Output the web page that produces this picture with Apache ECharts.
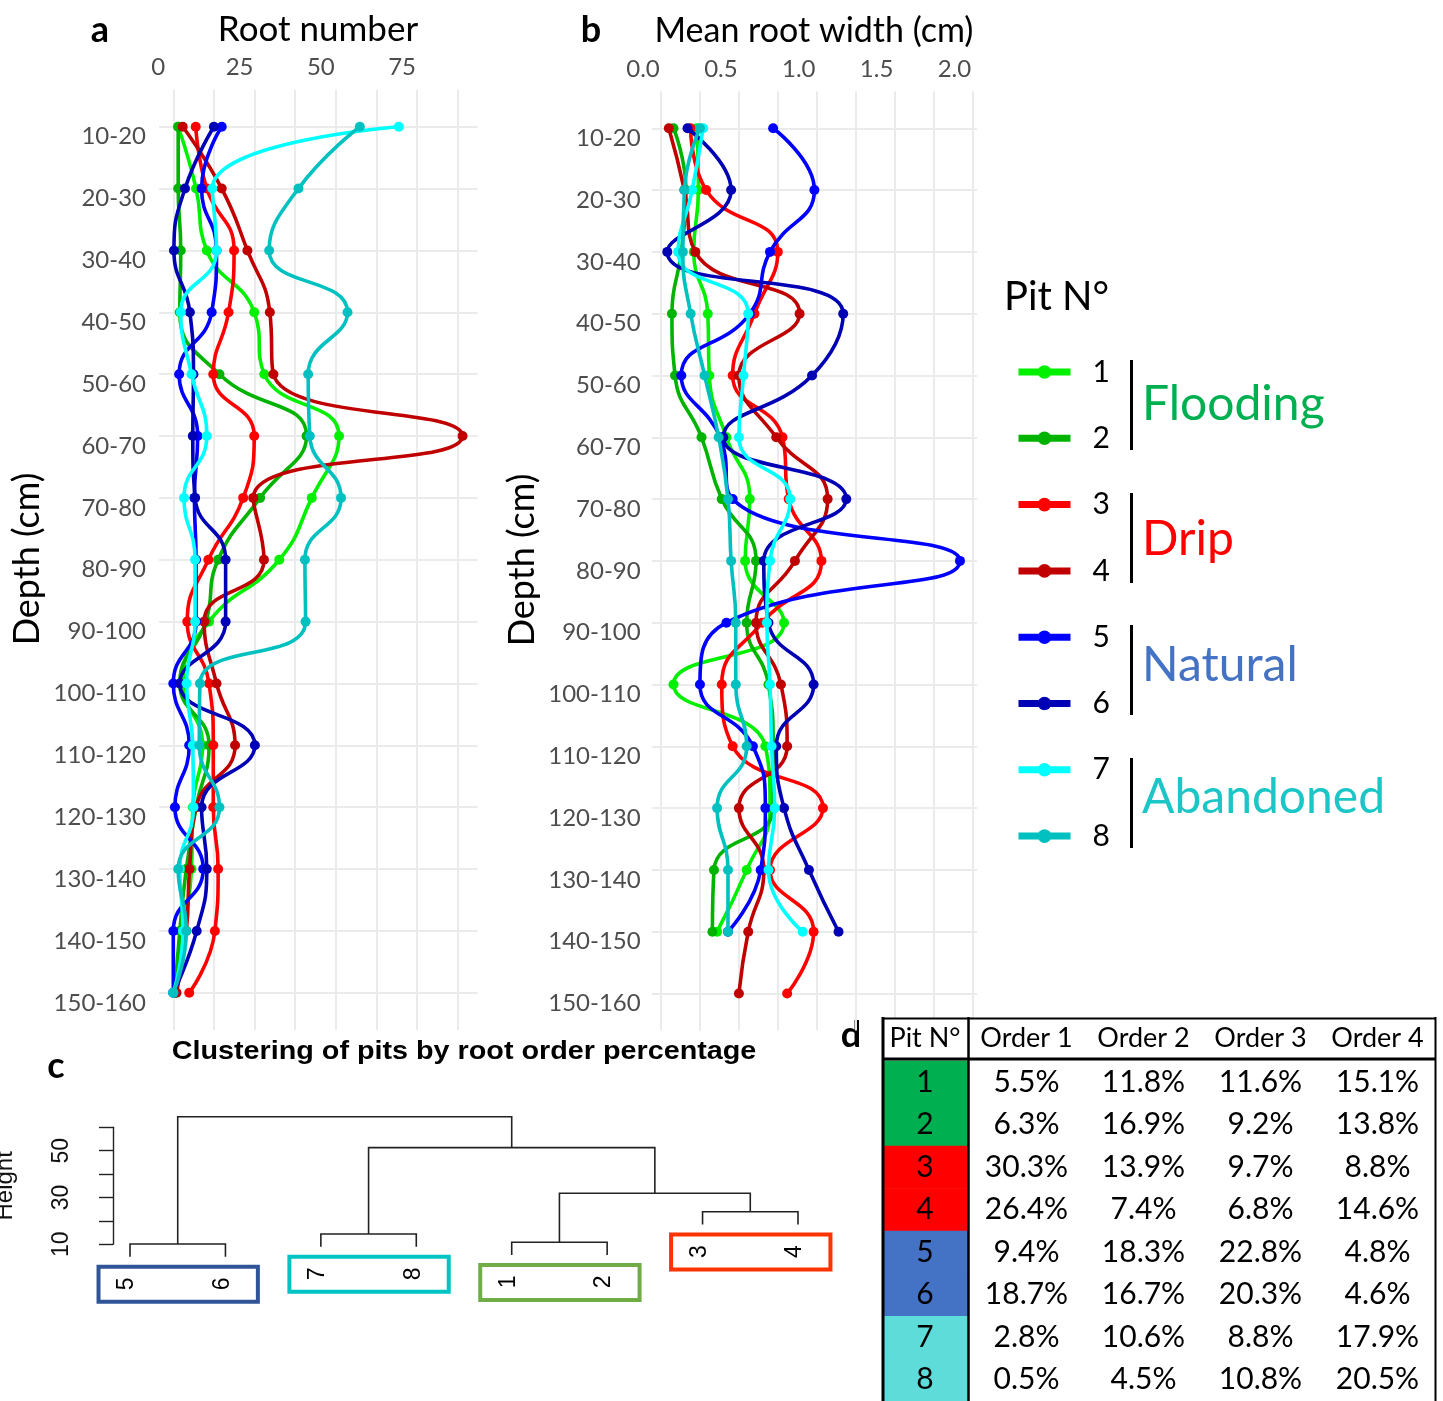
<!DOCTYPE html>
<html>
<head>
<meta charset="utf-8">
<script src="https://cdn.jsdelivr.net/npm/echarts@6/dist/echarts.min.js"></script>
<style>html,body{margin:0;padding:0;background:#fff}#c{width:1443px;height:1401px}</style>
</head>
<body>
<div id="c"></div>
<script>
// ---------------- DATA ----------------
const depthClasses = ['10-20','20-30','30-40','40-50','50-60','60-70','70-80','80-90','90-100','100-110','110-120','120-130','130-140','140-150','150-160'];
const pitIds = ['1','2','3','4','5','6','7','8'];
const pitTreatment = ['Flooding','Flooding','Drip','Drip','Natural','Natural','Abandoned','Abandoned'];
const treatments = ['Flooding','Drip','Natural','Abandoned'];

// panel a: root number per depth class
const rootNumberPit1 = [1.5, 7, 10.3, 24.9, 28, 51, 42.6, 32.6, 11, 3, 9, 6, 5.6, 3, 0.5];
const rootNumberPit2 = [1.5, 1.5, 2.3, 2, 14.2, 41, 26.7, 13.8, 10, 2, 11, 7, 4, 2, 0.5];
const rootNumberPit3 = [6.9, 10.3, 18.7, 17, 12.3, 24.9, 21.5, 10.8, 4.3, 11, 12.3, 12.3, 13.8, 12.8, 4.9];
const rootNumberPit4 = [2.9, 14.9, 22.8, 29.7, 30.8, 89, 24.6, 27.9, 9.5, 13.3, 19, 7, 5, 4, 1];
const rootNumberPit5 = [14.9, 8.7, 13.3, 11.8, 1.8, 7.5, 6.5, 7, 7, 0, 4.9, 0.5, 9.2, 0, 0];
const rootNumberPit6 = [12.5, 3.6, 0.2, 5.1, 6.2, 6, 6.7, 16.1, 16.1, 2, 25.1, 8.7, 10.3, 7.2, 0];
const rootNumberPit7 = [69.4, 12, 13.3, 2.3, 5.6, 10.3, 3.3, 6.7, 6.7, 4.1, 6, 6.2, 2, 3, 0];
const rootNumberPit8 = [57.4, 38.5, 29.5, 53.6, 41.5, 42, 51.6, 40.5, 40.7, 8.2, 8, 14.2, 1.5, 4, 0];

// panel b: mean root width (cm) per depth class
const rootWidthPit1 = [0.23, 0.24, 0.21, 0.30, 0.31, 0.42, 0.57, 0.54, 0.79, 0.08, 0.67, 0.70, 0.55, 0.36];
const rootWidthPit2 = [0.08, 0.16, 0.13, 0.07, 0.09, 0.26, 0.39, 0.61, 0.55, 0.69, 0.72, 0.72, 0.34, 0.33];
const rootWidthPit3 = [0.19, 0.29, 0.75, 0.60, 0.46, 0.78, 0.82, 1.03, 0.65, 0.39, 0.46, 1.04, 0.70, 0.98, 0.81];
const rootWidthPit4 = [0.05, 0.15, 0.22, 0.89, 0.50, 0.74, 1.07, 0.86, 0.61, 0.77, 0.81, 0.50, 0.66, 0.56, 0.50];
const rootWidthPit5 = [0.72, 0.985, 0.70, 0.57, 0.13, 0.38, 0.46, 1.92, 0.42, 0.25, 0.59, 0.67, 0.64, 0.43];
const rootWidthPit6 = [0.17, 0.45, 0.04, 1.17, 0.97, 0.40, 1.19, 0.66, 0.69, 0.98, 0.74, 0.79, 0.95, 1.14];
const rootWidthPit7 = [0.27, 0.20, 0.11, 0.56, 0.53, 0.50, 0.83, 0.70, 0.68, 0.70, 0.71, 0.73, 0.69, 0.91];
const rootWidthPit8 = [0.25, 0.15, 0.14, 0.19, 0.28, 0.37, 0.43, 0.45, 0.48, 0.48, 0.55, 0.36, 0.43, 0.43];

const rootNumberTicks = [0, 12.5, 25, 37.5, 50, 62.5, 75, 87.5];
const rootNumberLabels = [0, 25, 50, 75];
const rootWidthTicks = [0, 0.25, 0.5, 0.75, 1, 1.25, 1.5, 1.75, 2];
const rootWidthLabels = [0, 0.5, 1, 1.5, 2];

// panel c: hierarchical clustering (R hclust style merge table)
const leafOrder = ['5','6','7','8','1','2','3','4'];
const mergeLeft = [-5, -1, -7, -3, 2, 3, 1];
const mergeRight = [-6, -2, -8, -4, 4, 5, 6];
const mergeHeight = [10.1, 10.9, 14.4, 23.9, 31.8, 51.3, 64.5];
const clusterLeaves = [['5','6'], ['7','8'], ['1','2'], ['3','4']];
const clusterTreatment = ['Natural', 'Abandoned', 'Flooding', 'Drip'];
const heightLabels = [10, 30, 50];

// panel d: root order percentages
const orderNames = ['Order 1', 'Order 2', 'Order 3', 'Order 4'];
const order1 = [5.5, 6.3, 30.3, 26.4, 9.4, 18.7, 2.8, 0.5];
const order2 = [11.8, 16.9, 13.9, 7.4, 18.3, 16.7, 10.6, 4.5];
const order3 = [11.6, 9.2, 9.7, 6.8, 22.8, 20.3, 8.8, 10.8];
const order4 = [15.1, 13.8, 8.8, 14.6, 4.8, 4.6, 17.9, 20.5];

// ---------------- STYLE ----------------
const pitColors = ['#00f000', '#00b300', '#ff0000', '#c00000', '#0000ff', '#0000b4', '#00ffff', '#00c0c0'];
const treatmentText = {Flooding:'#00b050', Drip:'#ff0000', Natural:'#4472c4', Abandoned:'#1cc6c6'};
const tableFill = {Flooding:'#00b050', Drip:'#ff0000', Natural:'#4472c4', Abandoned:'#5ddcda'};
const boxColor = {Natural:'#2f5597', Abandoned:'#00c4c4', Flooding:'#70ad47', Drip:'#ff3300'};
const F = 'Lato, "Open Sans", sans-serif';
const FR = '"Liberation Sans", Arial, sans-serif';
const gridLine = {show:true, lineStyle:{color:'#ebebeb', width:2}};

const rootNumber = [rootNumberPit1, rootNumberPit2, rootNumberPit3, rootNumberPit4, rootNumberPit5, rootNumberPit6, rootNumberPit7, rootNumberPit8];
const rootWidth = [rootWidthPit1, rootWidthPit2, rootWidthPit3, rootWidthPit4, rootWidthPit5, rootWidthPit6, rootWidthPit7, rootWidthPit8];
const orders = [order1, order2, order3, order4];

// ---------------- DENDROGRAM GEOMETRY (from merge table) ----------------
const hMax = Math.max(...mergeHeight), hMin = Math.min(...mergeHeight);
const hang = 0.1 * (hMax - hMin);
const nodeX = [];
function posOf(ref) { return ref < 0 ? leafOrder.indexOf(String(-ref)) + 1 : nodeX[ref - 1]; }
for (let i = 0; i < mergeHeight.length; i++) nodeX[i] = (posOf(mergeLeft[i]) + posOf(mergeRight[i])) / 2;
function lowOf(ref, h) { return ref < 0 ? h - hang : mergeHeight[ref - 1]; }
const dendroSegments = mergeHeight.map((h, i) => {
  const xl = posOf(mergeLeft[i]), xr = posOf(mergeRight[i]);
  return {coords: [[xl, lowOf(mergeLeft[i], h)], [xl, h], [xr, h], [xr, lowOf(mergeRight[i], h)]]};
});
const leafEnd = {};
mergeHeight.forEach((h, i) => {
  [mergeLeft[i], mergeRight[i]].forEach(r => { if (r < 0) leafEnd[String(-r)] = h - hang; });
});
const clusterData = clusterLeaves.map(pair => [leafOrder.indexOf(pair[0]) + 1, leafOrder.indexOf(pair[1]) + 1, leafEnd[pair[0]]]);

// ---------------- SERIES ----------------
const series = [];
function depthLine(arr, i, axis) {
  return {
    name: pitIds[i], type: 'line', xAxisIndex: axis, yAxisIndex: axis,
    data: arr.map((v, j) => [v, j]), smooth: 0.5, symbol: 'circle', symbolSize: 10,
    itemStyle: {color: pitColors[i]}, lineStyle: {width: 3.6, color: pitColors[i]},
    emphasis: {disabled: true}, z: 3 + i * 0.01
  };
}
rootNumber.forEach((arr, i) => series.push(depthLine(arr, i, 0)));
rootWidth.forEach((arr, i) => series.push(depthLine(arr, i, 1)));
series.push({
  type: 'lines', coordinateSystem: 'cartesian2d', xAxisIndex: 2, yAxisIndex: 2,
  polyline: true, silent: true, data: dendroSegments,
  lineStyle: {color: '#222', width: 1.6, opacity: 1}
});
series.push({
  type: 'custom', xAxisIndex: 2, yAxisIndex: 2, silent: true,
  data: clusterData,
  renderItem: function (params, api) {
    const x1 = api.value(0), x2 = api.value(1), h = api.value(2);
    const p1 = api.coord([x1 - 0.33, h]), p2 = api.coord([x2 + 0.34, h]);
    const c = boxColor[clusterTreatment[params.dataIndex]];
    const la = api.coord([x1, h]), lb = api.coord([x2, h]);
    const pair = clusterLeaves[params.dataIndex];
    return {type: 'group', children: [
      {type: 'rect', shape: {x: p1[0], y: p1[1] + 10, width: p2[0] - p1[0], height: 35},
       style: {fill: 'none', stroke: c, lineWidth: 4}},
      {type: 'text', x: la[0] - 3, y: la[1] + 27, rotation: Math.PI / 2,
       style: {text: pair[0], font: '23px ' + FR, fill: '#000', textAlign: 'center', textVerticalAlign: 'middle'}},
      {type: 'text', x: lb[0] - 3, y: lb[1] + 27, rotation: Math.PI / 2,
       style: {text: pair[1], font: '23px ' + FR, fill: '#000', textAlign: 'center', textVerticalAlign: 'middle'}}
    ]};
  }
});
// table: pit column
const pitCells = [[0, 0]].concat(pitIds.map((p, i) => [0, i + 1]));
series.push({
  type: 'custom', xAxisIndex: 4, yAxisIndex: 4, silent: true, z: 10,
  data: pitCells,
  renderItem: function (params, api) {
    const row = api.value(1);
    const c = api.coord([api.value(0), row]);
    const s = api.size([1, 1]);
    const isHead = row === 0;
    return {type: 'group', children: [
      {type: 'rect', shape: {x: c[0] - s[0] / 2, y: c[1] - s[1] / 2, width: s[0], height: s[1] + 0.6},
       style: {fill: isHead ? '#fff' : tableFill[pitTreatment[row - 1]]}},
      {type: 'text', x: c[0], y: c[1] + (isHead ? -1 : 0),
       style: {text: isHead ? 'Pit N°' : pitIds[row - 1], font: (isHead ? '27px ' : '30px ') + F, fill: '#000', textAlign: 'center', textVerticalAlign: 'middle'}}
    ]};
  }
});
// table: order columns
const orderCells = [];
orderNames.forEach((o, ci) => { orderCells.push([ci, 0]); pitIds.forEach((p, ri) => orderCells.push([ci, ri + 1])); });
series.push({
  type: 'custom', xAxisIndex: 5, yAxisIndex: 5, silent: true, z: 10,
  data: orderCells,
  renderItem: function (params, api) {
    const col = api.value(0), row = api.value(1);
    const c = api.coord([col, row]);
    const s = api.size([1, 1]);
    const isHead = row === 0;
    const txt = isHead ? orderNames[col] : orders[col][row - 1].toFixed(1) + '%';
    return {type: 'group', children: [
      {type: 'rect', shape: {x: c[0] - s[0] / 2, y: c[1] - s[1] / 2, width: s[0] + 0.6, height: s[1] + 0.6}, style: {fill: '#fff'}},
      {type: 'text', x: c[0], y: c[1] + (isHead ? -1 : 0),
       style: {text: txt, font: (isHead ? '27px ' : '30px ') + F, fill: '#000', textAlign: 'center', textVerticalAlign: 'middle'}}
    ]};
  }
});

// ---------------- AXES ----------------
const hidden = {show: false};
const depthIdx = depthClasses.map((d, i) => i);
function depthAxis(grid, margin) {
  return {gridIndex: grid, type: 'value', inverse: true, min: -0.6, max: 14.6,
    axisLine: hidden, axisTick: {show: false, customValues: depthIdx},
    axisLabel: {customValues: depthIdx, formatter: v => depthClasses[Math.round(v)], fontSize: 24, fontFamily: F,
                color: '#4d4d4d', margin: margin, verticalAlign: 'top', lineHeight: 20},
    splitLine: gridLine};
}
function titleText(x, y, text, size, rot) {
  return {type: 'text', x: x, y: y, rotation: rot || 0,
    style: {text: text, font: size + 'px ' + F, fill: '#000', textAlign: 'center', textVerticalAlign: 'middle'}};
}
const option = {
  animation: false,
  backgroundColor: '#fff',
  grid: [
    {left: 159, top: 89.6, width: 318.5, height: 940.3},
    {left: 651.7, top: 91.2, width: 325.4, height: 939.4},
    {left: 82.3, top: 1103.9, width: 763.4, height: 210.6},
    {left: 103, top: 1127.3, width: 10, height: 117},
    {left: 882, top: 1018, width: 86, height: 386},
    {left: 968, top: 1018, width: 468, height: 386}
  ],
  xAxis: [
    {gridIndex: 0, type: 'value', position: 'top', min: -4.4, max: 93.6,
     axisLine: hidden, axisTick: {show: false, customValues: rootNumberTicks},
     axisLabel: {customValues: rootNumberLabels, fontSize: 24, fontFamily: F, color: '#4d4d4d', margin: 10, padding: [0, 30, 0, 0]},
     splitLine: gridLine},
    {gridIndex: 1, type: 'value', position: 'top', min: -0.06, max: 2.03,
     axisLine: hidden, axisTick: {show: false, customValues: rootWidthTicks},
     axisLabel: {customValues: rootWidthLabels, fontSize: 24, fontFamily: F, color: '#4d4d4d', margin: 10, padding: [0, 36, 0, 0], formatter: v => v.toFixed(1)},
     splitLine: gridLine},
    {gridIndex: 2, type: 'value', min: 0.5, max: 8.5, show: false},
    {gridIndex: 3, type: 'value', min: 0, max: 1, show: false},
    {gridIndex: 4, type: 'category', data: ['Pit N°'], show: false},
    {gridIndex: 5, type: 'category', data: orderNames, show: false}
  ],
  yAxis: [
    depthAxis(0, 13),
    depthAxis(1, 11),
    {gridIndex: 2, type: 'value', min: -20, max: 70, show: false},
    {gridIndex: 3, type: 'value', min: 10, max: 60, interval: 10,
     axisLine: {show: true, lineStyle: {color: '#222', width: 1.4}},
     axisTick: {show: true, length: 14, lineStyle: {color: '#222', width: 1.4}},
     axisLabel: {rotate: 90, fontSize: 23, fontFamily: FR, color: '#111', margin: 40,
                 formatter: v => heightLabels.indexOf(v) >= 0 ? String(v) : ''},
     splitLine: hidden,
     name: 'Height', nameLocation: 'middle', nameGap: 96, nameRotate: 90,
     nameTextStyle: {fontSize: 24, fontFamily: FR, color: '#111'}},
    {gridIndex: 4, type: 'category', inverse: true, data: ['h'].concat(pitIds), show: false},
    {gridIndex: 5, type: 'category', inverse: true, data: ['h'].concat(pitIds), show: false}
  ],
  legend: {
    orient: 'vertical', left: 1010, top: 352, itemWidth: 52, itemHeight: 17, itemGap: 36.3,
    selectedMode: false, data: pitIds,
    textStyle: {fontSize: 30, fontFamily: F, color: '#000', lineHeight: 30, padding: [0, 0, 0, 17]},
    lineStyle: {width: 7}
  },
  series: series,
  graphic: [
    {type: 'text', x: 100, y: 30, style: {text: 'a', font: 'bold 36px ' + F, fill: '#000', textAlign: 'center', textVerticalAlign: 'middle'}},
    {type: 'text', x: 591, y: 30, style: {text: 'b', font: 'bold 36px ' + F, fill: '#000', textAlign: 'center', textVerticalAlign: 'middle'}},
    {type: 'text', x: 56, y: 1066, style: {text: 'c', font: 'bold 36px ' + F, fill: '#000', textAlign: 'center', textVerticalAlign: 'middle'}},
    {type: 'text', x: 851, y: 1035, style: {text: 'd', font: 'bold 36px ' + F, fill: '#000', textAlign: 'center', textVerticalAlign: 'middle'}},
    titleText(318, 30, 'Root number', 35),
    titleText(814, 31, 'Mean root width (cm)', 34),
    titleText(27, 559, 'Depth (cm)', 36, Math.PI / 2),
    titleText(522, 560, 'Depth (cm)', 36, Math.PI / 2),
    {type: 'text', x: 464, y: 1052, scaleX: 1.15,
     style: {text: 'Clustering of pits by root order percentage', font: 'bold 25px ' + FR, fill: '#000', textAlign: 'center', textVerticalAlign: 'middle'}},
    {type: 'text', x: 1004, y: 297, style: {text: 'Pit N°', font: '40px ' + F, fill: '#000', textAlign: 'left', textVerticalAlign: 'middle'}},
    // legend group bars and labels
    {type: 'rect', shape: {x: 1130, y: 360, width: 3, height: 90}, style: {fill: '#000'}},
    {type: 'rect', shape: {x: 1130, y: 493, width: 3, height: 90}, style: {fill: '#000'}},
    {type: 'rect', shape: {x: 1130, y: 625, width: 3, height: 90}, style: {fill: '#000'}},
    {type: 'rect', shape: {x: 1130, y: 758, width: 3, height: 90}, style: {fill: '#000'}},
    {type: 'text', x: 1142, y: 405, style: {text: treatments[0], font: '48px ' + F, fill: treatmentText.Flooding, textAlign: 'left', textVerticalAlign: 'middle'}},
    {type: 'text', x: 1142, y: 540, style: {text: treatments[1], font: '48px ' + F, fill: treatmentText.Drip, textAlign: 'left', textVerticalAlign: 'middle'}},
    {type: 'text', x: 1142, y: 666, style: {text: treatments[2], font: '48px ' + F, fill: treatmentText.Natural, textAlign: 'left', textVerticalAlign: 'middle'}},
    {type: 'text', x: 1142, y: 798, style: {text: treatments[3], font: '48px ' + F, fill: treatmentText.Abandoned, textAlign: 'left', textVerticalAlign: 'middle'}},
    // table borders
    {type: 'line', z: 100, shape: {x1: 882, y1: 1018.5, x2: 1436, y2: 1018.5}, style: {stroke: '#000', lineWidth: 2}},
    {type: 'line', z: 100, shape: {x1: 882, y1: 1059, x2: 1436, y2: 1059}, style: {stroke: '#000', lineWidth: 3}},
    {type: 'line', z: 100, shape: {x1: 883, y1: 1017, x2: 883, y2: 1401}, style: {stroke: '#000', lineWidth: 3}},
    {type: 'line', z: 100, shape: {x1: 968.5, y1: 1017, x2: 968.5, y2: 1401}, style: {stroke: '#000', lineWidth: 2.5}},
    {type: 'line', z: 100, shape: {x1: 1435.5, y1: 1017, x2: 1435.5, y2: 1401}, style: {stroke: '#000', lineWidth: 2}}
  ]
};
const chart = echarts.init(document.getElementById('c'), null, {renderer: 'canvas', width: 1443, height: 1401});
chart.setOption(option);
</script>
</body>
</html>
